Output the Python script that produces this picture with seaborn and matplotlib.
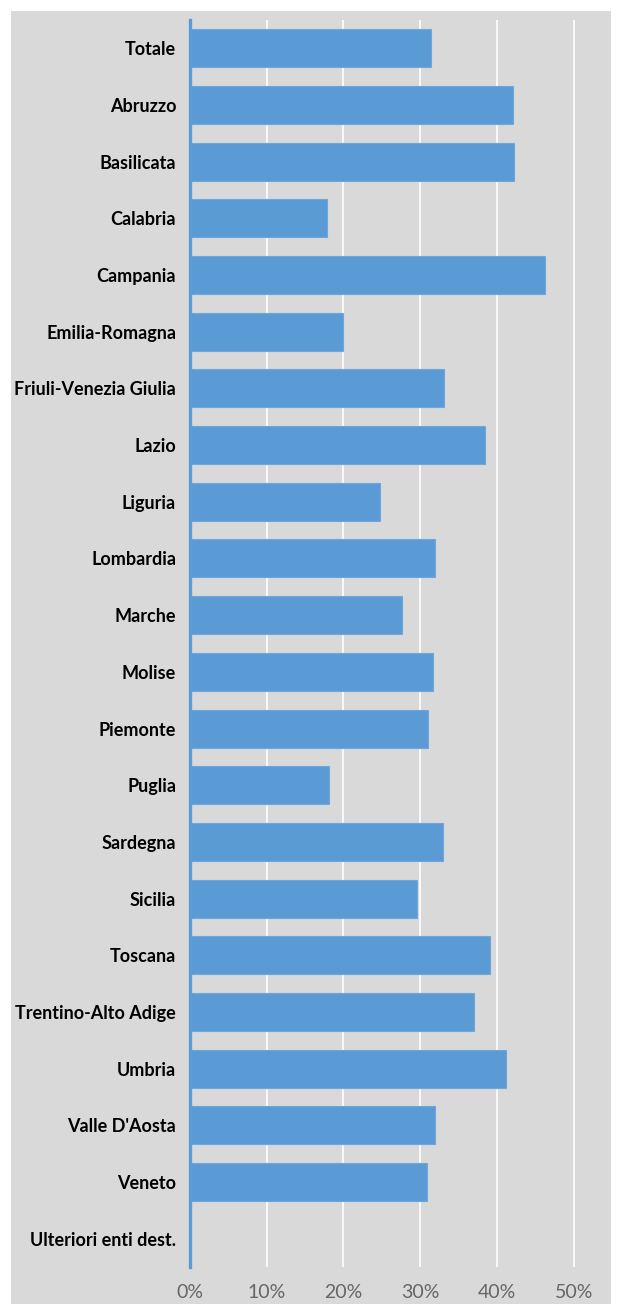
import pandas as pd
import numpy as np
import seaborn as sns
import matplotlib.pyplot as plt
from matplotlib.patches import Rectangle
from matplotlib.ticker import PercentFormatter, MultipleLocator

# Data
regions = ['Totale', 'Abruzzo', 'Basilicata', 'Calabria', 'Campania', 'Emilia-Romagna',
           'Friuli-Venezia Giulia', 'Lazio', 'Liguria', 'Lombardia', 'Marche', 'Molise',
           'Piemonte', 'Puglia', 'Sardegna', 'Sicilia', 'Toscana', 'Trentino-Alto Adige',
           'Umbria', "Valle D'Aosta", 'Veneto', 'Ulteriori enti dest.']
shares = [0.314, 0.421, 0.422, 0.178, 0.462, 0.199,
          0.331, 0.385, 0.248, 0.319, 0.276, 0.316,
          0.310, 0.181, 0.330, 0.296, 0.391, 0.370,
          0.412, 0.319, 0.309, 0.0]

df = pd.DataFrame({'region': regions, 'share': shares})

bar_color = '#5b9bd5'
bg_color = '#d9d9d9'

sns.set_theme(style='white')
W, H = 619, 1304
fig = plt.figure(figsize=(W / 100, H / 100), dpi=100)
fig.patch.set_facecolor('white')
fig.patches.append(Rectangle((11 / W, 0), 600 / W, 1 - 11 / H, transform=fig.transFigure,
                             facecolor=bg_color, edgecolor='none', zorder=-10))

ax = fig.add_axes([190 / W, 1 - 1267 / H, (611 - 190) / W, (1267 - 20) / H])
ax.set_facecolor(bg_color)

sns.barplot(data=df, x='share', y='region', orient='h', color=bar_color,
            saturation=1, width=0.67, edgecolor='#6fa7db', linewidth=0.8, ax=ax, zorder=3)

ax.set_xlim(0, 0.5486)
ax.xaxis.set_major_locator(MultipleLocator(0.1))
ax.xaxis.set_major_formatter(PercentFormatter(1.0, decimals=0))
ax.grid(axis='x', color='white', linewidth=1.2, zorder=0)
ax.set_axisbelow(True)

for s in ['top', 'right', 'bottom']:
    ax.spines[s].set_visible(False)
ax.spines['left'].set_color(bar_color)
ax.spines['left'].set_linewidth(2.4)
ax.spines['left'].set_zorder(5)

ax.set_xlabel('')
ax.set_ylabel('')
ax.tick_params(axis='both', length=0)
ax.tick_params(axis='y', pad=10)
ax.tick_params(axis='x', pad=12)

for lab in ax.get_yticklabels():
    lab.set_family(['Lato', 'DejaVu Sans'])
    lab.set_fontweight('bold')
    lab.set_fontsize(13)
    lab.set_color('black')
for lab in ax.get_xticklabels():
    lab.set_family(['Lato', 'DejaVu Sans'])
    lab.set_fontsize(14)
    lab.set_color('#666666')

fig.savefig('out.png', dpi=100, facecolor='white')
